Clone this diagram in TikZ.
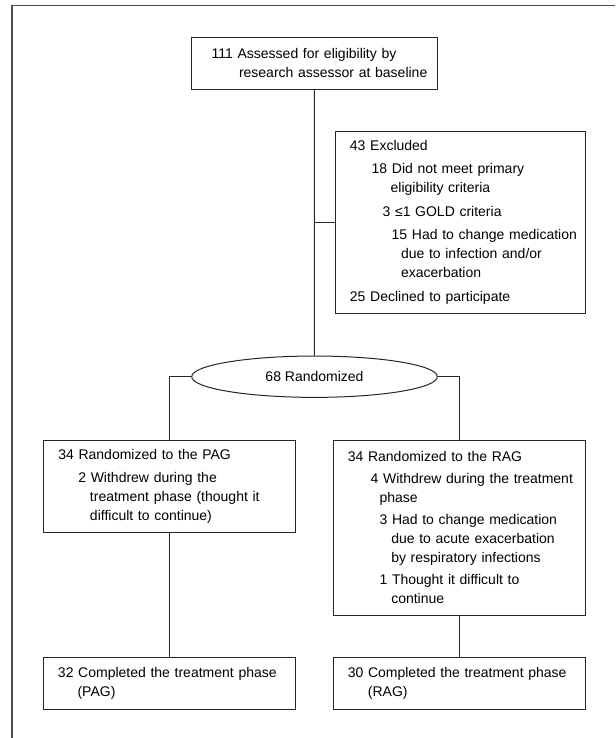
\documentclass[tikz,border=0pt]{standalone}
\usepackage{fontspec}
\setmainfont{Liberation Sans}
\usetikzlibrary{shapes.geometric}
\newcommand{\indnt}[1]{\hspace*{#1pt}}

\begin{document}
\begin{tikzpicture}[x=0.75pt, y=-0.75pt,
    every node/.style={font=\fontsize{10.5}{14.25}\selectfont},
    box/.style={draw=black!85, line width=0.75pt, rectangle, inner sep=0pt, align=left},
    link/.style={draw=black!85, line width=0.75pt}]
    \useasboundingbox (0,0) rectangle (615,738);
    \draw[black!70, line width=1.3pt] (615,5.5) -- (12.3,5.5) -- (12.3,738);
    % boxes
    \node[box, text width=184pt, minimum height=38.8pt] (assess) at (314.35,63.15)
      {\indnt{15}111 Assessed for eligibility by\\ \indnt{35.5}research assessor at baseline};
    \node[box, text width=187pt, minimum height=136.7pt] (excl) at (460.35,222.15)
      {\indnt{10.7}43 Excluded\\[3.4pt]
       \indnt{27}18 Did not meet primary\\
       \indnt{41.2}eligibility criteria\\[3.4pt]
       \indnt{35.2}3 ≤1 GOLD criteria\\[3.4pt]
       \indnt{42}15 Had to change medication\\
       \indnt{49}due to infection and/or\\
       \indnt{49}exacerbation\\[3.4pt]
       \indnt{10.7}25 Declined to participate};
    \node[draw=black!85, line width=0.75pt, ellipse, inner sep=0pt, minimum width=184.2pt, minimum height=31pt] (rand) at (314.5,376.7) {68 Randomized};
    \node[box, text width=189.5pt, minimum height=69.5pt] (pag) at (169.65,486.35)
      {\indnt{11.25}34 Randomized to the PAG\\[3pt]
       \indnt{26.25}2 Withdrew during the\\
       \indnt{35}treatment phase (thought it\\
       \indnt{35}difficult to continue)};
    \node[box, text width=188.8pt, minimum height=130.9pt] (rag) at (459.15,527.75)
      {\indnt{10.9}34 Randomized to the RAG\\[2.3pt]
       \indnt{28}4 Withdrew during the treatment\\
       \indnt{34.7}phase\\[2.3pt]
       \indnt{34.7}3 Had to change medication\\
       \indnt{43.5}due to acute exacerbation\\
       \indnt{43.5}by respiratory infections\\[2.3pt]
       \indnt{34.7}1 Thought it difficult to\\
       \indnt{43.5}continue};
    \node[box, text width=189.5pt, minimum height=38.7pt] (pagdone) at (169.65,683.5)
      {\indnt{11}32 Completed the treatment phase\\ \indnt{25.7}(PAG)};
    \node[box, text width=188.8pt, minimum height=38.7pt] (ragdone) at (459.15,683.5)
      {\indnt{10.9}30 Completed the treatment phase\\ \indnt{26}(RAG)};
    % connectors
    \draw[link] (assess) -- (rand);
    \draw[link] (excl.west) -- (excl.west -| assess.south);
    \draw[link] (rand.west) -| (pag.north);
    \draw[link] (rand.east) -| (rag.north);
    \draw[link] (pag) -- (pagdone);
    \draw[link] (rag) -- (ragdone);
\end{tikzpicture}
\end{document}
